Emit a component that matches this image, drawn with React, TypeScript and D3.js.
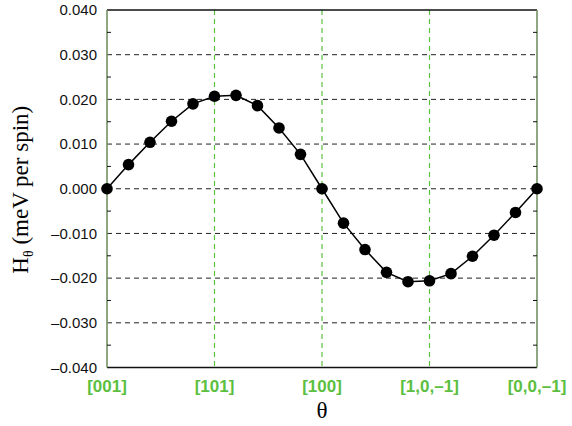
import React from "react";
import * as d3 from "d3";

const directions = ["[001]", "[101]", "[100]", "[1,0,\u20131]", "[0,0,\u20131]"];
const yTicks = [-0.04, -0.03, -0.02, -0.01, 0, 0.01, 0.02, 0.03, 0.04];
const hValues = [
  0, 0.0054, 0.0104, 0.0151, 0.019, 0.0207, 0.0209, 0.0186, 0.0136, 0.0077, 0,
  -0.0077, -0.0136, -0.0187, -0.0208, -0.0206, -0.019, -0.0151, -0.0104, -0.0053, 0,
];

const W = 572, H = 426;
const M = { left: 107, right: 35, top: 10, bottom: 58.5 };
const GREEN = "#5cbf3f";

export default function App() {
  const x = d3.scaleLinear().domain([0, hValues.length - 1]).range([M.left, W - M.right]);
  const xd = d3.scaleLinear().domain([0, directions.length - 1]).range([M.left, W - M.right]);
  const y = d3.scaleLinear().domain([-0.04, 0.04]).range([H - M.bottom, M.top]);
  const line = d3.line<number>().x((_, i) => x(i)).y((d) => y(d));
  const fmt = (v: number) => (v < 0 ? "\u2013" : "") + Math.abs(v).toFixed(3);
  const minor = d3.range(-0.035, 0.04, 0.01);
  const x0 = M.left, x1 = W - M.right, y0 = M.top, y1 = H - M.bottom;
  return (
    <svg width={W} height={H} style={{ position: "absolute", left: 0, top: 0 }}>
      <rect x={0} y={0} width={W} height={H} fill="white" />
      {yTicks.slice(1, -1).map((t) => (
        <line key={t} x1={x0} x2={x1} y1={y(t)} y2={y(t)} stroke="#222" strokeWidth={1} strokeDasharray="5,4" />
      ))}
      {directions.slice(1, -1).map((_, i) => (
        <line key={i} x1={xd(i + 1)} x2={xd(i + 1)} y1={y0} y2={y1} stroke={GREEN} strokeWidth={1.2} strokeDasharray="5,4" />
      ))}
      <line x1={x0} x2={x1} y1={y0} y2={y0} stroke="#111" strokeWidth={1.3} />
      <line x1={x0} x2={x1} y1={y1} y2={y1} stroke="#111" strokeWidth={1.3} />
      <line x1={x0} x2={x0} y1={y0} y2={y1} stroke="#6a8a5a" strokeWidth={1.5} />
      <line x1={x1} x2={x1} y1={y0} y2={y1} stroke="#6a8a5a" strokeWidth={1.5} />
      {minor.map((t, i) => (
        <g key={i}>
          <line x1={x0} x2={x0 + 4} y1={y(t)} y2={y(t)} stroke="#111" />
          <line x1={x1 - 4} x2={x1} y1={y(t)} y2={y(t)} stroke="#111" />
        </g>
      ))}
      {yTicks.map((t) => (
        <text key={t} x={x0 - 10} y={y(t)} dy="0.35em" textAnchor="end" fontFamily="Liberation Sans, Arial, sans-serif" fontSize={15} fill="#111">
          {fmt(t)}
        </text>
      ))}
      {directions.map((d, i) => (
        <text key={d} x={xd(i)} y={y1 + 24} textAnchor="middle" fontFamily="Liberation Sans, Arial, sans-serif" fontSize={17} fontWeight="bold" fill={GREEN}>
          {d}
        </text>
      ))}
      <path d={line(hValues) || ""} fill="none" stroke="#000" strokeWidth={1.5} />
      {hValues.map((v, i) => (
        <circle key={i} cx={x(i)} cy={y(v)} r={5.8} fill="#000" />
      ))}
      <text x={(x0 + x1) / 2} y={y1 + 50} textAnchor="middle" fontFamily="Liberation Serif, Times New Roman, serif" fontSize={23} fill="#000">
        θ
      </text>
      <text transform={`translate(28,${(y0 + y1) / 2 + 1}) rotate(-90)`} textAnchor="middle" fontFamily="Liberation Serif, Times New Roman, serif" fontSize={23} fill="#000">
        H<tspan fontSize={14} dy={5}>θ</tspan><tspan dy={-5}> (meV per spin)</tspan>
      </text>
    </svg>
  );
}
